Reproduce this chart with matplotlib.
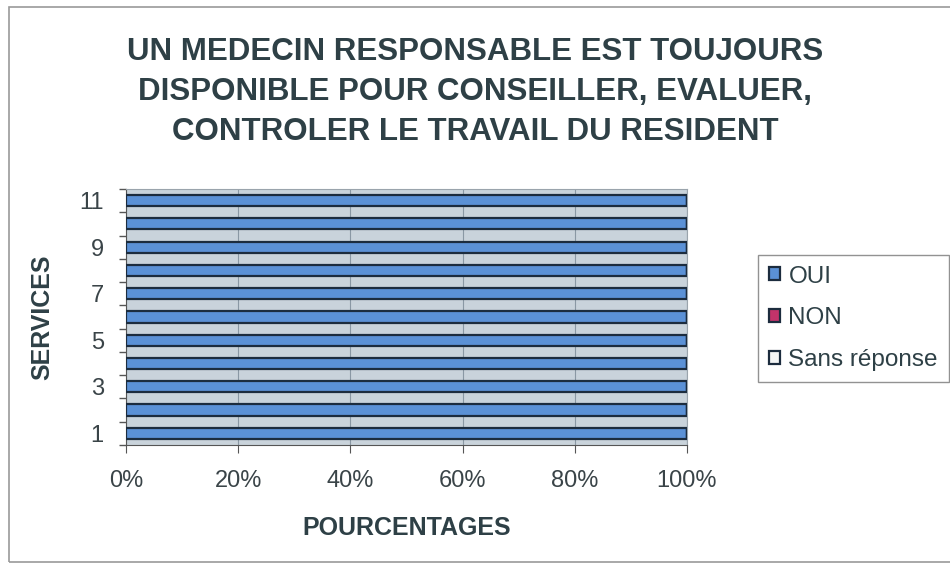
import numpy as np
import matplotlib
matplotlib.use("Agg")
import matplotlib.pyplot as plt
from matplotlib.patches import Rectangle

plt.rcParams['font.family'] = ['Liberation Sans', 'DejaVu Sans']

services = list(range(1, 12))
oui = [100] * 11
non = [0] * 11
sans_reponse = [0] * 11
xticks = [0, 20, 40, 60, 80, 100]
xtick_labels = ["0%", "20%", "40%", "60%", "80%", "100%"]

title = ("UN MEDECIN RESPONSABLE EST TOUJOURS\n"
         "DISPONIBLE POUR CONSEILLER, EVALUER,\n"
         "CONTROLER LE TRAVAIL DU RESIDENT")

text_col = "#2e4046"
tick_col = "#3a4448"
fig = plt.figure(figsize=(9.5, 5.67), dpi=100)
fig.patch.set_facecolor("white")

# outer chart frame
fig.patches.append(Rectangle((0.009, 0.008), 1.2, 0.979, transform=fig.transFigure,
                             fill=False, edgecolor="#9a9a9a", linewidth=1.2))

ax = fig.add_axes([0.1326, 0.2152, 0.5905, 0.4515])
ax.set_facecolor("#c9d3db")

y = np.array(services)
h = 0.48
ax.barh(y, oui, height=h, color="#5b91d6", edgecolor="#1c2c3e", linewidth=1.6, label="OUI", zorder=3)
left = np.array(oui)
ax.barh(y, non, height=h, left=left, color="#c2336a", edgecolor="#1c2c3e", linewidth=1.6, label="NON", zorder=3)
left = left + np.array(non)
ax.barh(y, sans_reponse, height=h, left=left, color="#f4f6f6", edgecolor="#1c2c3e", linewidth=1.6,
        label="Sans réponse", zorder=3)

ax.set_xlim(0, 100)
ax.set_ylim(0.5, 11.5)
ax.set_xticks(xticks)
ax.set_xticklabels(xtick_labels, fontsize=17, color=tick_col)
ax.grid(axis="x", color="#8a98a4", linewidth=0.8, zorder=1)

ax.set_yticks(services[::2])
ax.set_yticklabels([str(s) for s in services[::2]], fontsize=17, color=tick_col)
ax.set_yticks(np.arange(0.5, 12, 1.0), minor=True)
ax.tick_params(axis="y", which="major", length=0, pad=16)
ax.tick_params(axis="y", which="minor", length=5, color="#555555", width=1)
ax.tick_params(axis="x", which="major", length=6, color="#555555", pad=12)

for s in ["top", "right"]:
    ax.spines[s].set_color("#9aa4ac")
    ax.spines[s].set_linewidth(0.8)
ax.spines["left"].set_color("#555555")
ax.spines["bottom"].set_color("#555555")

ax.set_xlabel("POURCENTAGES", fontsize=18, fontweight="bold", color=text_col, labelpad=17)
ax.set_ylabel("SERVICES", fontsize=18, fontweight="bold", color=text_col, labelpad=18)

fig.text(0.5, 0.934, title, ha="center", va="top", fontsize=22.5, fontweight="bold",
         color=text_col, linespacing=1.43)

leg = fig.legend(loc="upper left", bbox_to_anchor=(0.798, 0.551), fontsize=17.5, frameon=True,
                 fancybox=False, edgecolor="#777777", handlelength=0.45, handleheight=0.45,
                 handletextpad=0.35, borderaxespad=0, labelspacing=0.82, borderpad=0.45)
leg.get_frame().set_linewidth(1.0)
for t in leg.get_texts():
    t.set_color(text_col)

fig.savefig("out.png", dpi=100)
